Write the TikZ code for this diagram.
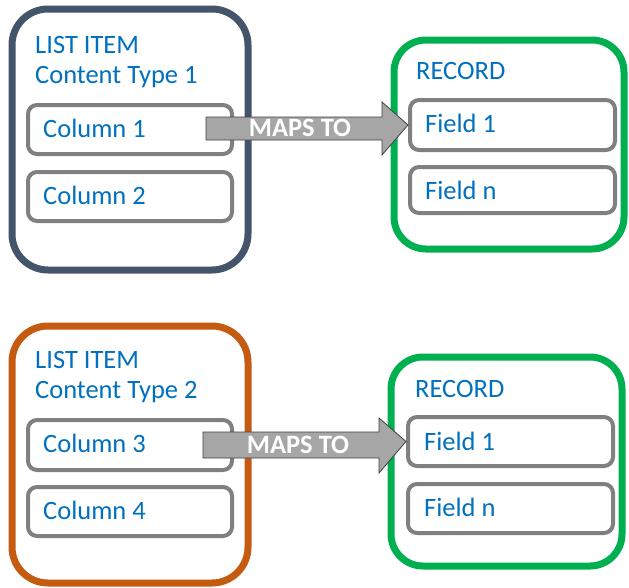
\documentclass[tikz,border=0pt]{standalone}
\usepackage{fontspec}
\setmainfont{Carlito}
\definecolor{slate}{HTML}{44546A}
\definecolor{rust}{HTML}{C55A11}
\definecolor{leaf}{HTML}{00B050}
\definecolor{boxgray}{HTML}{808080}
\definecolor{txtblue}{HTML}{0070C0}
\definecolor{arrowfill}{HTML}{A6A6A6}
\definecolor{arrowline}{HTML}{404040}
\begin{document}
\begin{tikzpicture}[x=1pt,y=-1pt,
  outerbox/.style={draw, line width=7pt, rounded corners=36pt, fill=white, inner sep=0pt},
  itembox/.style={draw=boxgray, line width=4pt, rounded corners=9pt, fill=white, inner sep=0pt, minimum width=205pt},
  lbl/.style={anchor=base west, inner sep=0pt, text=txtblue, font=\fontsize{26.5}{30}\selectfont},
  maparrow/.style={fill=arrowfill, draw=arrowline, line width=0.8pt, line join=miter},
  maptext/.style={anchor=base, inner sep=0pt, text=white, font=\fontsize{26.5}{30}\selectfont\bfseries}
]
\useasboundingbox (0,0) rectangle (629,587);
\fill[white] (0,0) rectangle (629,587);

% ---------- top group ----------
\node[outerbox, draw=slate, minimum width=236pt, minimum height=261pt] (ct1) at (130,139.5) {};
\node[itembox, minimum width=204pt, minimum height=49pt] (c1) at (130,129.5) {};
\node[itembox, minimum width=204pt, minimum height=49pt] (c2) at (130,196.5) {};
\node[lbl] (t1) at (35,53) {LIST ITEM};
\node[lbl] (t2) at (35,83) {Content Type 1};
\node[lbl] (t3) at (43,137) {Column 1};
\node[lbl] (t4) at (43,204) {Column 2};

\node[outerbox, draw=leaf, rounded corners=32pt, minimum width=230pt, minimum height=209pt] (r1) at (509,144.5) {};
\node[itembox, minimum height=50pt] (f1) at (512.5,125) {};
\node[itembox, minimum height=46pt] (fn1) at (512.5,190) {};
\node[lbl] (t5) at (416,79) {RECORD};
\node[lbl] (t6) at (425,132) {Field 1};
\node[lbl] (t7) at (425,199) {Field n};

\coordinate (a1tip) at (f1.west);
\draw[maparrow] (206,117) -- (382,117) -- (382,102) -- (a1tip) -- (382,155) -- (382,140) -- (206,140) -- cycle;
\node[maptext] (m1) at (300,136) {MAPS TO};

% ---------- bottom group ----------
\node[outerbox, draw=rust, minimum width=236pt, minimum height=257pt] (ct2) at (130,454.5) {};
\node[itembox, minimum width=204pt, minimum height=50pt] (c3) at (130,445) {};
\node[itembox, minimum width=204pt, minimum height=49pt] (c4) at (130,511.5) {};
\node[lbl] (t8) at (35,368) {LIST ITEM};
\node[lbl] (t9) at (35,398) {Content Type 2};
\node[lbl] (t10) at (43,452) {Column 3};
\node[lbl] (t11) at (43,519) {Column 4};

\node[outerbox, draw=leaf, rounded corners=32pt, minimum width=231pt, minimum height=209pt] (r2) at (506.5,461.5) {};
\node[itembox, minimum height=49pt] (f2) at (510.5,441.5) {};
\node[itembox, minimum height=49pt] (fn2) at (510.5,508.5) {};
\node[lbl] (t12) at (415,397) {RECORD};
\node[lbl] (t13) at (424,450) {Field 1};
\node[lbl] (t14) at (424,516) {Field n};

\coordinate (a2tip) at (f2.west);
\draw[maparrow] (203,432) -- (379,432) -- (379,418) -- (a2tip) -- (379,473) -- (379,458) -- (203,458) -- cycle;
\node[maptext] (m2) at (298,453) {MAPS TO};
\end{tikzpicture}
\end{document}
